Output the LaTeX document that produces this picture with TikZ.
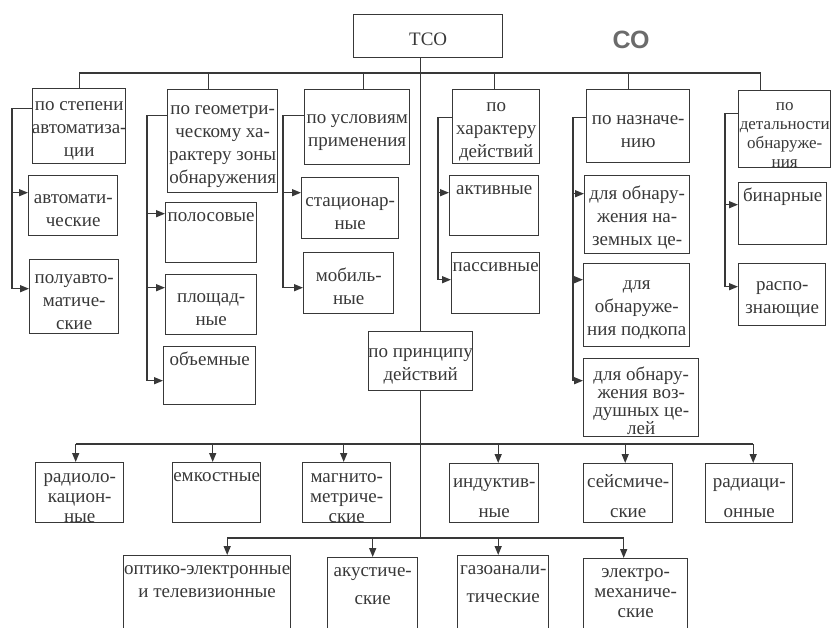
\documentclass[tikz,border=0pt]{standalone}
\usepackage{fontspec}
\setmainfont{Liberation Serif}
\setsansfont{Liberation Sans}
\usetikzlibrary{arrows.meta,calc}

% text of a box: width, height, lines (optional: t = top, c = centred)
\newcommand{\bxt}[4][t]{\parbox[c][#3pt][#1]{\dimexpr#2pt+16pt\relax}{\centering\rule{0pt}{19pt}#4}}

\begin{document}
\begin{tikzpicture}[x=1pt, y=-1pt, line width=1.4pt, color=black!78,
  >={Triangle[length=9pt,width=7pt]},
  box/.style={draw, anchor=north west, inner xsep=-8pt, inner ysep=0pt,
    font=\fontsize{19}{23}\selectfont}]
\path[use as bounding box, clip] (0,0) rectangle (833,628);

\node[box] (tco) at (353,14) {\bxt[c]{149}{43}{ТСО}};
\node[font=\sffamily\bfseries\fontsize{25}{30}\selectfont, text=black!58] (co) at (631,40) {СО};

% first level
\node[box] (p1) at (32,88)  {\bxt[c]{93}{75}{по степени\\автоматиза-\\ции}};
\node[box] (p2) at (167,89) {\bxt[c]{110}{103}{по геометри-\\ческому ха-\\рактеру зоны\\обнаружения}};
\node[box] (p3) at (304,89) {\bxt[c]{105}{75}{по условиям\\применения}};
\node[box] (p4) at (452,89) {\bxt[c]{87}{74}{по\\характеру\\действий}};
\node[box] (p5) at (586,89) {\bxt[c]{103}{73}{по назначе-\\нию}};
\node[box] (p6) at (738,90) {\bxt[c]{92}{77}{\fontsize{17}{19}\selectfont по\\детальности\\обнаруже-\\ния}};

% second level
\node[box] (a1) at (28,175)  {\bxt[c]{89}{60}{автомати-\\ческие}};
\node[box] (a2) at (29,259)  {\bxt[c]{89}{74}{полуавто-\\матиче-\\ские}};
\node[box] (g1) at (165,202) {\bxt{91}{60}{полосовые}};
\node[box] (g2) at (165,274) {\bxt[c]{91}{60}{площад-\\ные}};
\node[box] (g3) at (163,346) {\bxt{92}{58}{объемные}};
\node[box] (u1) at (301,177) {\bxt[c]{97}{61}{стационар-\\ные}};
\node[box] (u2) at (303,252) {\bxt[c]{90}{61}{мобиль-\\ные}};
\node[box] (h1) at (449,175) {\bxt{89}{60}{активные}};
\node[box] (h2) at (451,252) {\bxt{88}{61}{пассивные}};
\node[box] (n1) at (584,175) {\bxt[c]{105}{78}{для обнару-\\жения на-\\земных це-}};
\node[box] (n2) at (583,263) {\bxt[c]{106}{83}{для\\обнаруже-\\ния подкопа}};
\node[box] (n3) at (583,358) {\bxt[c]{115}{78}{\baselineskip=18pt для обнару-\\жения воз-\\душных це-\\лей}};
\node[box] (d1) at (738,182) {\bxt{88}{62}{бинарные}};
\node[box] (d2) at (738,263) {\bxt[c]{87}{62}{распо-\\знающие}};

\node[box] (pr) at (368,331) {\bxt[c]{104}{59}{по принципу\\действий}};

% by principle of action
\node[box] (r1) at (35,462)  {\bxt[c]{88}{60}{\baselineskip=20pt радиоло-\\кацион-\\ные}};
\node[box] (r2) at (172,462) {\bxt{88}{60}{емкостные}};
\node[box] (r3) at (302,462) {\bxt[c]{88}{60}{\baselineskip=20pt магнито-\\метриче-\\ские}};
\node[box] (r4) at (449,463) {\bxt[c]{89}{59}{\baselineskip=30pt индуктив-\\ные}};
\node[box] (r5) at (583,463) {\bxt[c]{89}{59}{\baselineskip=30pt сейсмиче-\\ские}};
\node[box] (r6) at (705,463) {\bxt[c]{87}{59}{\baselineskip=30pt радиаци-\\онные}};
\node[box] (s1) at (123,555) {\bxt{167}{90}{оптико-электронные\\и телевизионные}};
\node[box] (s2) at (327,557) {\bxt{90}{90}{\baselineskip=28pt акустиче-\\ские}};
\node[box] (s3) at (457,555) {\bxt{91}{90}{\baselineskip=28pt газоанали-\\тические}};
\node[box] (s4) at (583,558) {\bxt{104}{90}{\baselineskip=20pt электро-\\механиче-\\ские}};

\coordinate (bus)  at (0,73);
\coordinate (bus1) at (0,444);
\coordinate (bus2) at (0,538);

% trunk and top bus
\draw (tco.south -| pr.north) -- (pr.north);
\draw (pr.south) -- (pr.south |- bus2);
\draw (p1.north |- bus) -- ([xshift=-24pt]p6.north |- bus);
\foreach \n/\dx in {p1/0,p2/-14,p3/6,p4/-2,p5/-10,p6/-24}
  \draw ([xshift=\dx pt]\n.north) -- ([xshift=\dx pt]\n.north |- bus);

% side branches
\foreach \p/\dy/\g/\c/\cy in {p1/17.5/20/a1/13, p1/17.5/20/a2/8,
    p2/25.5/20/g1/19, p2/25.5/20/g2/17, p2/25.5/20/g3/-5,
    p3/11.5/21/u1/15.5, p3/11.5/21/u2/-4.5,
    p4/9/14/h1/13, p4/9/14/h2/3.5,
    p5/8.5/13/n1/21, p5/8.5/13/n2/25.5, p5/8.5/13/n3/17,
    p6/15.5/13/d1/9, p6/15.5/13/d2/8}
  \draw[->] ([yshift=\dy pt]\p.west) -- ++(-\g,0) |- ([yshift=\cy pt]\c.west);

% lower buses
\draw ([xshift=-4pt]r1.north |- bus1) -- ([xshift=4pt]r6.north |- bus1);
\foreach \n/\dx in {r1/-4,r2/-4,r3/-3,r4/4,r5/-3,r6/4}
  \draw[->] ([xshift=\dx pt]\n.north |- bus1) -- ([xshift=\dx pt]\n.north);
\draw ([xshift=20pt]s1.north |- bus2) -- ([xshift=-12pt]s4.north |- bus2);
\foreach \n/\dx in {s1/20,s2/0,s3/-5,s4/-12}
  \draw[->] ([xshift=\dx pt]\n.north |- bus2) -- ([xshift=\dx pt]\n.north);
\end{tikzpicture}
\end{document}
